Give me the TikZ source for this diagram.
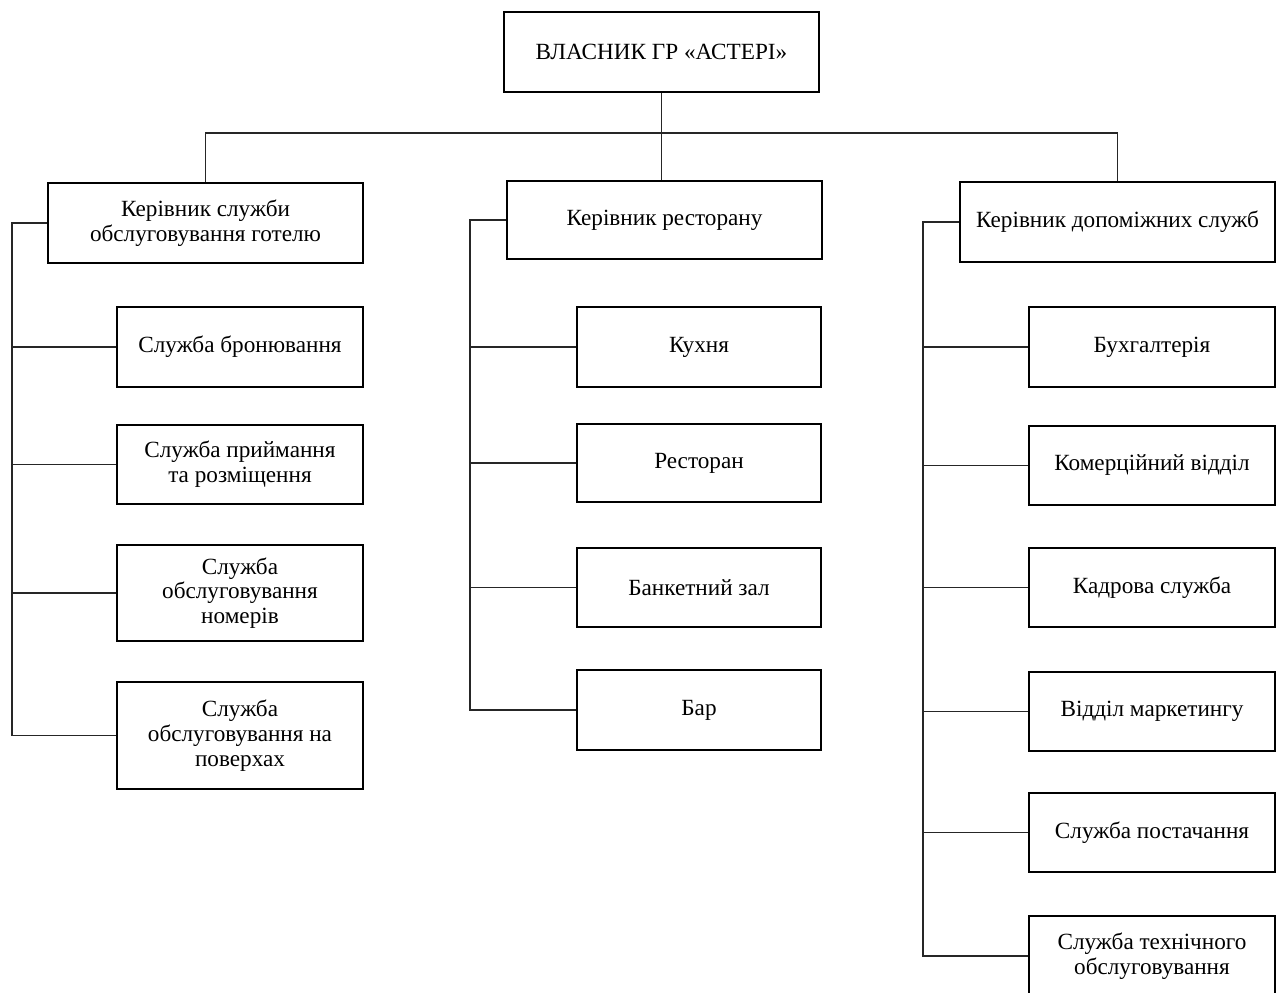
\documentclass[tikz,border=0pt]{standalone}
\usepackage{fontspec}
\setmainfont{Liberation Serif}
\usepackage{tikz}
\usetikzlibrary{positioning, calc}
\tikzset{
  headbox/.style={
    draw, line width=0.85pt, align=center,
    font=\fontsize{11.6pt}{12.4pt}\selectfont, fill=white,
    minimum width=157.5pt, minimum height=40pt, inner sep=2pt
  },
  unitbox/.style={
    draw, line width=0.85pt, align=center,
    font=\fontsize{11.6pt}{12.4pt}\selectfont, fill=white,
    minimum width=123pt, minimum height=40pt, inner sep=2pt
  },
  orgline/.style={line width=0.8pt, color=black!85},
}
\begin{document}
\begin{tikzpicture}[x=0.5pt, y=-0.5pt]
  \useasboundingbox (0,0) rectangle (1283,992);

  % Owner
  \node[headbox] (owner) at (661.5,52) {ВЛАСНИК ГР «АСТЕРІ»};

  % Managers
  \node[headbox] (hotel) at (205.5,223)
    {Керівник служби\\обслуговування готелю};
  \node[headbox, minimum height=39pt] (rest) at (664.5,220)
    {Керівник ресторану};
  \node[headbox] (aux) at (1117.5,222)
    {Керівник допоміжних служб};

  % Hotel services
  \node[unitbox] (h1) at (240,347) {Служба бронювання};
  \node[unitbox, minimum height=39.5pt] (h2) at (240,464.5)
    {Служба приймання\\та розміщення};
  \node[unitbox, minimum height=48pt] (h3) at (240,593)
    {Служба\\обслуговування\\номерів};
  \node[unitbox, minimum height=53.5pt] (h4) at (240,735.5)
    {Служба\\обслуговування на\\поверхах};

  % Restaurant units
  \node[unitbox, minimum width=122pt] (r1) at (699,347) {Кухня};
  \node[unitbox, minimum width=122pt, minimum height=39pt] (r2) at (699,463)
    {Ресторан};
  \node[unitbox, minimum width=122pt, minimum height=39.5pt] (r3) at (699,587.5)
    {Банкетний зал};
  \node[unitbox, minimum width=122pt] (r4) at (699,710) {Бар};

  % Auxiliary services
  \node[unitbox] (a1) at (1152,347) {Бухгалтерія};
  \node[unitbox, minimum height=39.5pt] (a2) at (1152,465.5)
    {Комерційний відділ};
  \node[unitbox, minimum height=39.5pt] (a3) at (1152,587.5)
    {Кадрова служба};
  \node[unitbox, minimum height=39.5pt] (a4) at (1152,711.5)
    {Відділ маркетингу};
  \node[unitbox, minimum height=39.5pt] (a5) at (1152,832.5)
    {Служба постачання};
  \node[unitbox] (a6) at (1152,956)
    {Служба технічного\\обслуговування};

  % Spines
  \coordinate (bus) at (0,133);
  \coordinate (hspine) at (12,0);
  \coordinate (rspine) at (470,0);
  \coordinate (aspine) at (923,0);

  % Lines
  \draw[orgline] (owner.south) -- (owner.south |- rest.north);
  \draw[orgline] (hotel.north) |- (bus -| owner.south) -| (aux.north);

  \draw[orgline] (hotel.west) -| (hspine |- h4.west) -- (h4.west);
  \draw[orgline] (hspine |- h1.west) -- (h1.west);
  \draw[orgline] (hspine |- h2.west) -- (h2.west);
  \draw[orgline] (hspine |- h3.west) -- (h3.west);

  \draw[orgline] (rest.west) -| (rspine |- r4.west) -- (r4.west);
  \draw[orgline] (rspine |- r1.west) -- (r1.west);
  \draw[orgline] (rspine |- r2.west) -- (r2.west);
  \draw[orgline] (rspine |- r3.west) -- (r3.west);

  \draw[orgline] (aux.west) -| (aspine |- a6.west) -- (a6.west);
  \draw[orgline] (aspine |- a1.west) -- (a1.west);
  \draw[orgline] (aspine |- a2.west) -- (a2.west);
  \draw[orgline] (aspine |- a3.west) -- (a3.west);
  \draw[orgline] (aspine |- a4.west) -- (a4.west);
  \draw[orgline] (aspine |- a5.west) -- (a5.west);
\end{tikzpicture}
\end{document}
